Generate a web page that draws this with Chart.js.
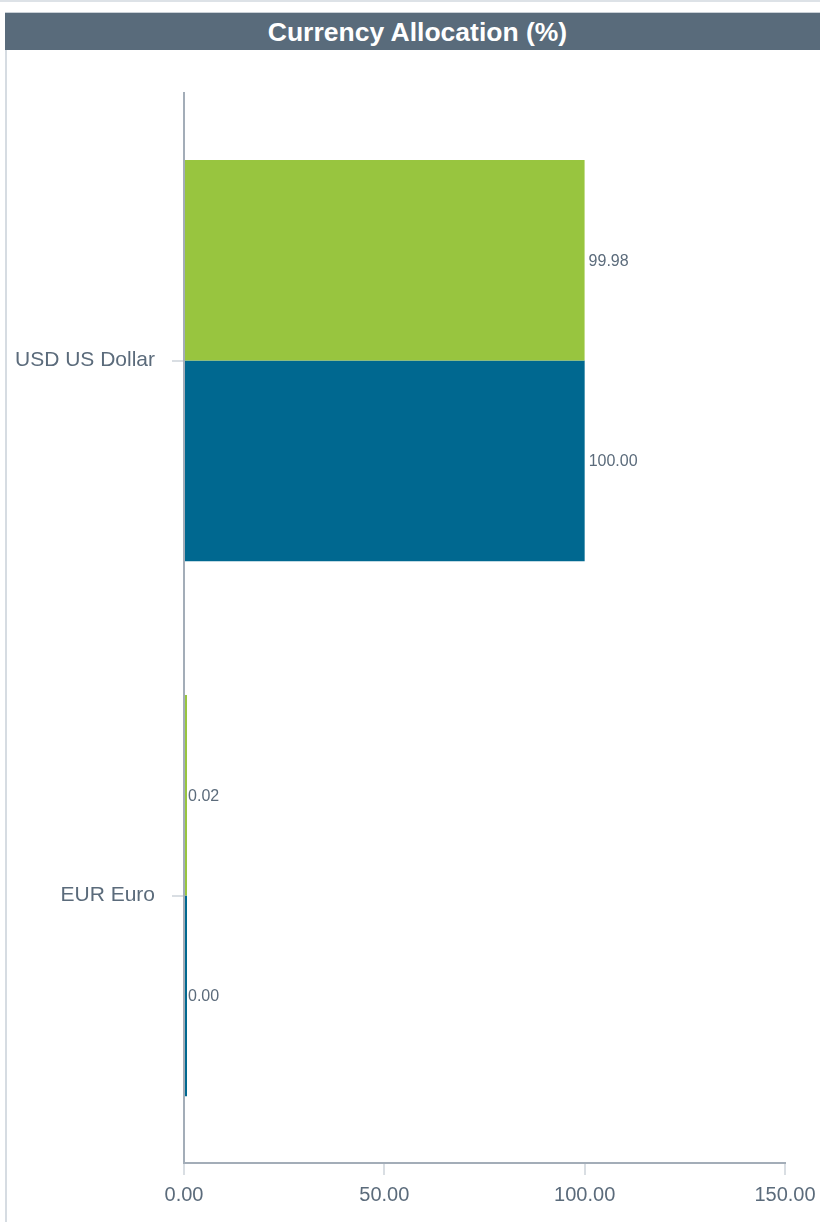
<!DOCTYPE html>
<html>
<head>
<meta charset="utf-8">
<script src="https://cdn.jsdelivr.net/npm/chart.js@4.4.1/dist/chart.umd.min.js"></script>
<style>
  html, body { margin: 0; padding: 0; background: #ffffff; }
  #wrap { position: relative; width: 820px; height: 1222px; overflow: hidden; font-family: "Liberation Sans", Arial, sans-serif; }
  #topline { position: absolute; left: 0; top: 0; width: 820px; height: 2px; background: #dde2e7; }
  #leftline { position: absolute; left: 5px; top: 50px; width: 2px; height: 1172px; background: #d6dce2; }
  #title { position: absolute; left: 5px; top: 12px; width: 815px; height: 38px; background: #596b7b;
           color: #ffffff; font-weight: bold; font-size: 26.5px; line-height: 38px; text-align: center; border-top: 1px solid #c9d0d7; box-sizing: border-box; }
  #title span { position: relative; left: 5px; }
  #cv { position: absolute; left: 0; top: 0; }
</style>
</head>
<body>
<div id="wrap">
  <div id="topline"></div>
  <div id="title"><span>Currency Allocation (%)</span></div>
  <div id="leftline"></div>
  <canvas id="cv" width="820" height="1222"></canvas>
</div>
<script>
const categories = ["USD US Dollar", "EUR Euro"];
const seriesGreen = [99.98, 0.02];
const seriesBlue = [100.00, 0.00];
const xTicks = [0, 50, 100, 150];

const textColor = "#5b6b7b";
const fontFamily = "'Liberation Sans', Arial, sans-serif";

const valueLabels = {
  id: "valueLabels",
  afterDatasetsDraw(chart) {
    const ctx = chart.ctx;
    const xs = chart.scales.x;
    ctx.save();
    ctx.font = "16px " + fontFamily;
    ctx.fillStyle = textColor;
    ctx.textAlign = "left";
    ctx.textBaseline = "middle";
    chart.data.datasets.forEach((ds, di) => {
      const meta = chart.getDatasetMeta(di);
      meta.data.forEach((el, i) => {
        const v = ds.data[i];
        const x = xs.getPixelForValue(v) + 4;
        ctx.fillText(v.toFixed(2), x, el.y + 1);
      });
    });
    ctx.restore();
  }
};

new Chart(document.getElementById("cv"), {
  type: "bar",
  data: {
    labels: categories,
    datasets: [
      { label: "A", data: seriesGreen, backgroundColor: "#98c53f", borderWidth: 0, minBarLength: 3,
        categoryPercentage: 0.75, barPercentage: 1.0 },
      { label: "B", data: seriesBlue, backgroundColor: "#006890", borderWidth: 0, minBarLength: 3,
        categoryPercentage: 0.75, barPercentage: 1.0 }
    ]
  },
  options: {
    indexAxis: "y",
    responsive: false,
    animation: false,
    events: [],
    layout: { padding: { top: 93, right: 35, bottom: 0, left: 0 } },
    plugins: { legend: { display: false }, tooltip: { enabled: false }, title: { display: false } },
    scales: {
      x: {
        min: 0, max: 150,
        afterBuildTicks(scale) { scale.ticks = xTicks.map(v => ({ value: v })); },
        afterFit(scale) { scale.height = 59; scale.paddingLeft = 0; scale.paddingRight = 0; },
        border: { display: true, color: "#a3adb8", width: 2 },
        grid: { drawOnChartArea: false, drawTicks: true, tickLength: 12, color: "#d9dee3", lineWidth: 2 },
        ticks: { color: textColor, font: { size: 20, family: fontFamily }, padding: 8,
                 callback: v => Number(v).toFixed(2), maxRotation: 0 }
      },
      y: {
        afterFit(scale) { scale.width = 184; scale.paddingTop = 0; scale.paddingBottom = 0; },
        border: { display: true, color: "#a3adb8", width: 2 },
        grid: { offset: false, drawOnChartArea: false, drawTicks: true, tickLength: 12, color: "#d9dee3", lineWidth: 2 },
        ticks: { color: textColor, font: { size: 21, family: fontFamily }, padding: 17 }
      }
    }
  },
  plugins: [valueLabels]
});
</script>
</body>
</html>
